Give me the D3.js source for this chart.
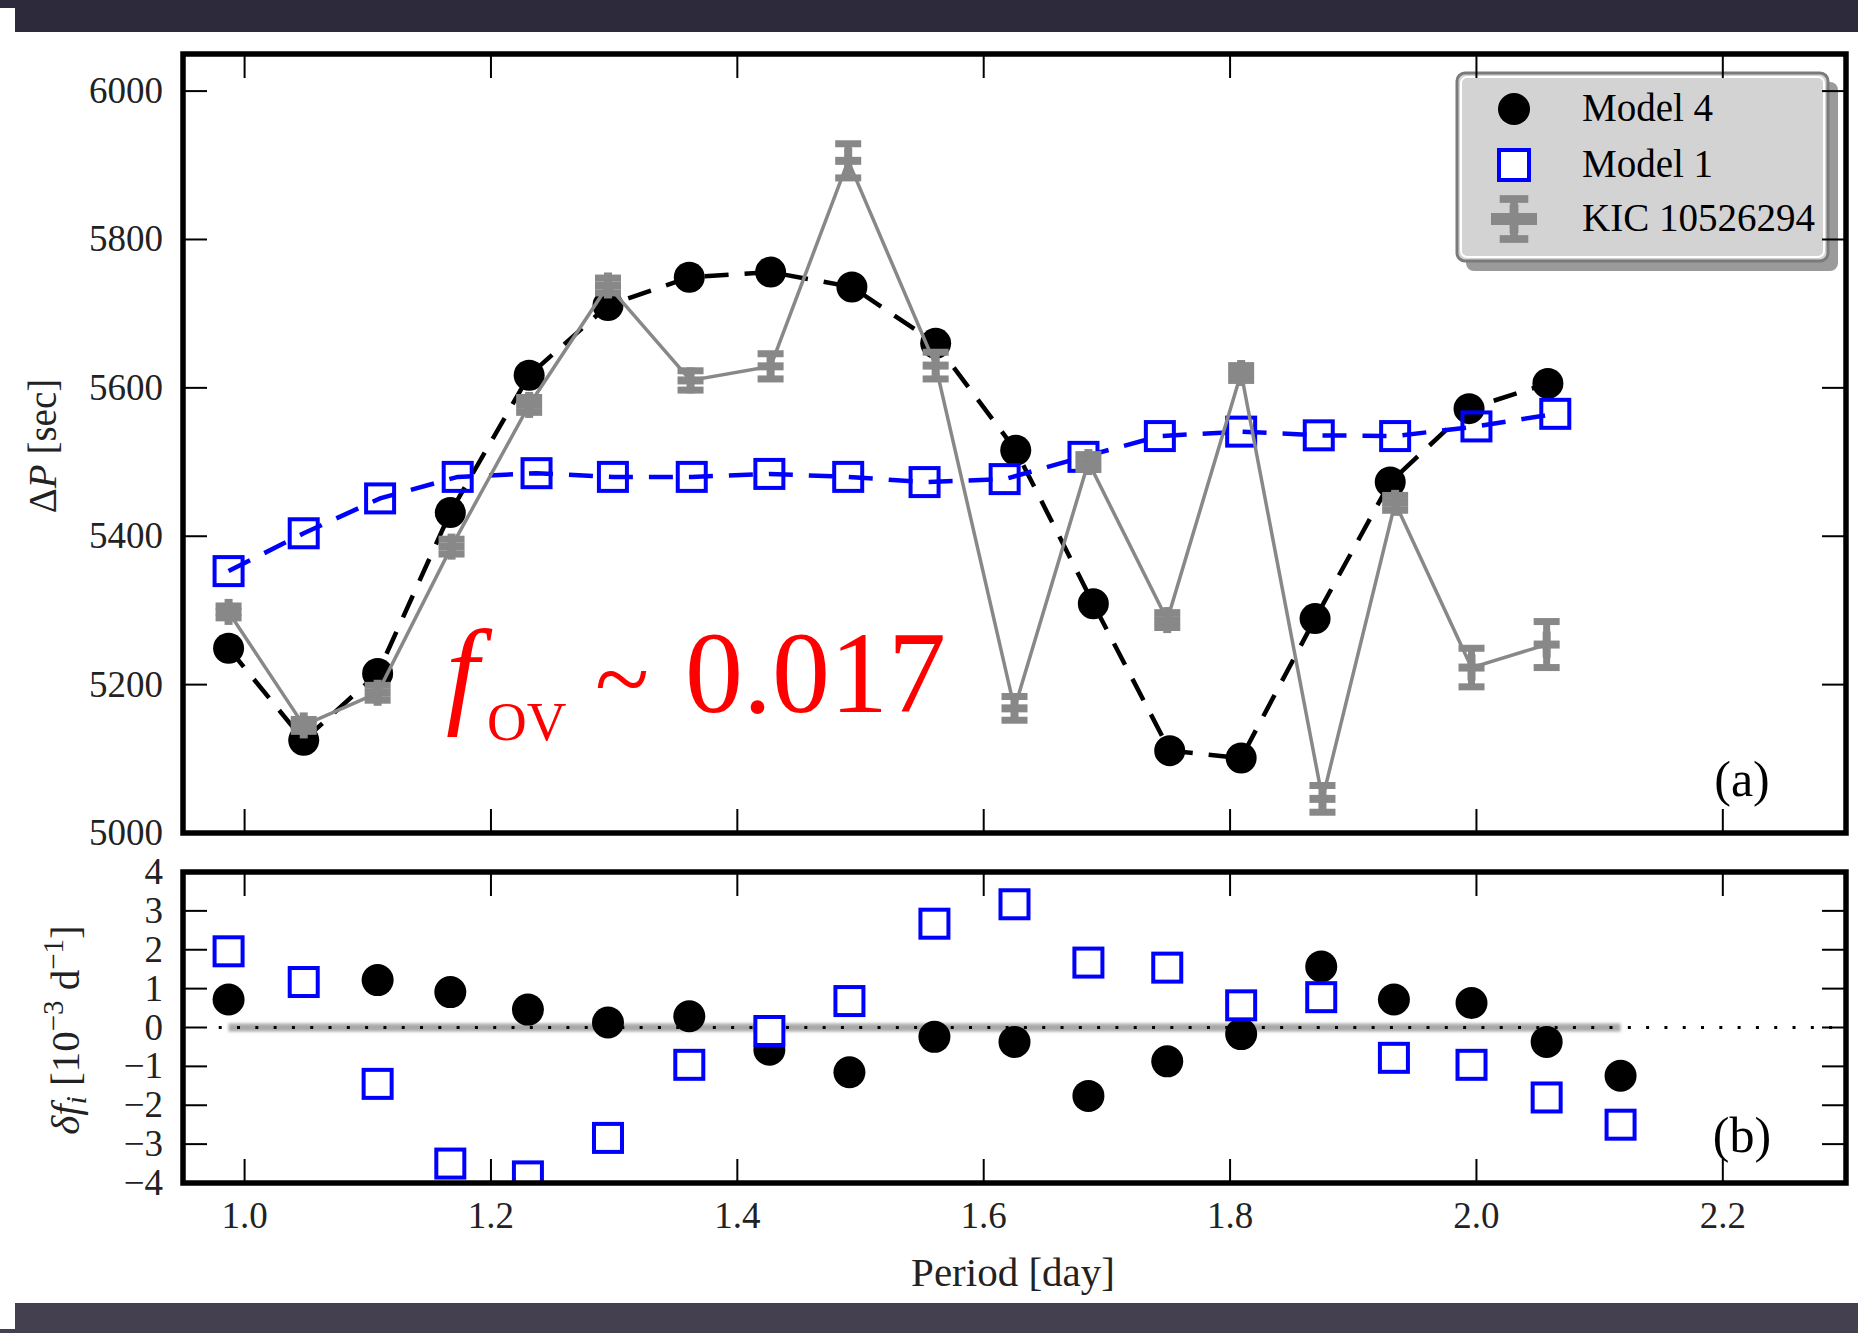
<!DOCTYPE html>
<meta charset="utf-8">
<script src="https://d3js.org/d3.v7.min.js"></script>
<style>
  body { margin: 0; background: #fff; }
  text { font-family: "Liberation Serif", "DejaVu Serif", serif; }
</style>
<body>
<div id="my_dataviz"></div>
<script>

// ---- data ----
// panel (a): period spacing vs period
var m4Period  = [0.987,1.048,1.108,1.167,1.231,1.295,1.361,1.427,1.493,1.561,1.626,1.689,1.751,1.809,1.869,1.930,1.994,2.058];
var m4DeltaP  = [5249,5125,5215,5432,5617,5711,5749,5756,5736,5660,5516,5309,5111,5101,5289,5473,5572,5606];

var m1Period  = [0.987,1.048,1.110,1.173,1.237,1.299,1.363,1.426,1.490,1.552,1.617,1.681,1.743,1.809,1.872,1.934,2.000,2.064];
var m1DeltaP  = [5353,5404,5451,5480,5485,5480,5480,5484,5480,5473,5477,5507,5535,5541,5536,5535,5548,5565];

var kicPeriod = [0.987,1.048,1.108,1.168,1.231,1.295,1.362,1.427,1.490,1.561,1.625,1.685,1.749,1.809,1.875,1.934,1.996,2.057];
var kicDeltaP = [5298,5145,5189,5386,5577,5738,5610,5629,5906,5630,5168,5500,5287,5620,5046,5445,5223,5254];
var kicErr    = [8,8,10,10,10,10,13,17,23,18,16,10,10,10,18,10,26,31];

// panel (b): frequency residuals
var resPeriod = [0.987,1.048,1.108,1.167,1.230,1.295,1.361,1.426,1.491,1.560,1.625,1.685,1.749,1.809,1.874,1.933,1.996,2.057,2.117];
var m4Resid   = [0.72,null,1.22,0.91,0.46,0.13,0.29,-0.57,-1.15,-0.24,-0.37,-1.76,-0.87,-0.17,1.57,0.72,0.63,-0.37,-1.24];
var m1Resid   = [1.96,1.17,-1.45,-3.5,-3.83,-2.84,-0.96,-0.09,0.68,2.67,3.17,1.67,1.54,0.57,0.78,-0.78,-0.96,-1.8,-2.5];

var xTicks  = [1.0,1.2,1.4,1.6,1.8,2.0,2.2];
var yTicksA = [5000,5200,5400,5600,5800,6000];
var yTicksB = [-4,-3,-2,-1,0,1,2,3,4];
var legendLabels = ["Model 4","Model 1","KIC 10526294"];

// ---- layout ----
var W = 1858, H = 1333;
var left = 183, right = 1846;
var topA = 54, botA = 833;
var topB = 872, botB = 1183;

var svg = d3.select("#my_dataviz").append("svg")
    .attr("width", W).attr("height", H);

// screen frame bars
svg.append("rect").attr("x",0).attr("y",0).attr("width",W).attr("height",32).attr("fill","#2c2a3b");
svg.append("rect").attr("x",0).attr("y",8).attr("width",15).attr("height",24).attr("fill","#fff");
svg.append("rect").attr("x",0).attr("y",1303).attr("width",W).attr("height",30).attr("fill","#45404f");
svg.append("rect").attr("x",0).attr("y",1303).attr("width",15).attr("height",26).attr("fill","#fff");

var x = d3.scaleLinear().domain([0.95, 2.3]).range([left, right]);
var yA = d3.scaleLinear().domain([5000, 6050]).range([botA, topA]);
var yB = d3.scaleLinear().domain([-4, 4]).range([botB, topB]);

var defs = svg.append("defs");
defs.append("clipPath").attr("id","clipA").append("rect")
    .attr("x",left).attr("y",topA).attr("width",right-left).attr("height",botA-topA);
defs.append("clipPath").attr("id","clipB").append("rect")
    .attr("x",left).attr("y",topB).attr("width",right-left).attr("height",botB-topB);
defs.append("filter").attr("id","blur")
    .attr("x","-5%").attr("y","-100%").attr("width","110%").attr("height","300%")
  .append("feGaussianBlur").attr("stdDeviation",1.5);

var grey = "#888888", blue = "#0000ff";

function kicMarker(g, cx, cy, yTop, yBot, s) {
  var cap = 26 * s, th = 7 * s;
  g.append("line").attr("x1",cx).attr("x2",cx).attr("y1",yTop).attr("y2",yBot)
    .attr("stroke",grey).attr("stroke-width",7 * s);
  g.append("rect").attr("x",cx-cap/2).attr("y",yTop-th/2).attr("width",cap).attr("height",th).attr("fill",grey);
  g.append("rect").attr("x",cx-cap/2).attr("y",yBot-th/2).attr("width",cap).attr("height",th).attr("fill",grey);
  // plus marker
  g.append("rect").attr("x",cx-13*s).attr("y",cy-4*s).attr("width",26*s).attr("height",8*s).attr("fill",grey);
  g.append("rect").attr("x",cx-4*s).attr("y",cy-13*s).attr("width",8*s).attr("height",26*s).attr("fill",grey);
}

// ================= panel (a) =================
var gA = svg.append("g").attr("clip-path","url(#clipA)");

var m4 = m4Period.map(function(p,i){ return {p:p, v:m4DeltaP[i]}; });
var m1 = m1Period.map(function(p,i){ return {p:p, v:m1DeltaP[i]}; });
var kic = kicPeriod.map(function(p,i){ return {p:p, v:kicDeltaP[i], e:kicErr[i]}; });

var lineA = d3.line().x(function(d){ return x(d.p); }).y(function(d){ return yA(d.v); });

gA.append("path").datum(m4).attr("d", lineA)
  .attr("fill","none").attr("stroke","#000").attr("stroke-width",4.5).attr("stroke-dasharray","24,16");
gA.selectAll("circle.m4").data(m4).enter().append("circle")
  .attr("cx",function(d){ return x(d.p); }).attr("cy",function(d){ return yA(d.v); })
  .attr("r",15.5).attr("fill","#000");

gA.append("path").datum(m1).attr("d", lineA)
  .attr("fill","none").attr("stroke",blue).attr("stroke-width",4.5).attr("stroke-dasharray","24,16");
gA.selectAll("rect.m1").data(m1).enter().append("rect")
  .attr("x",function(d){ return x(d.p)-14; }).attr("y",function(d){ return yA(d.v)-14; })
  .attr("width",28).attr("height",28).attr("fill","none").attr("stroke",blue).attr("stroke-width",4);

gA.append("path").datum(kic).attr("d", lineA)
  .attr("fill","none").attr("stroke",grey).attr("stroke-width",3.5);
kic.forEach(function(d){
  kicMarker(gA, x(d.p), yA(d.v), yA(d.v + d.e), yA(d.v - d.e), 1);
});

// red annotation
var red = svg.append("g").attr("fill","#ff0000");
red.append("text").attr("x",446).attr("y",712).attr("font-size",118).attr("font-style","italic").text("f");
red.append("text").attr("x",487).attr("y",740).attr("font-size",55).text("OV");
red.append("text").attr("x",595).attr("y",712).attr("font-size",100).text("~");
red.append("text").attr("x",685).attr("y",712).attr("font-size",116).text("0.017");

svg.append("text").attr("x",1742).attr("y",796).attr("font-size",50).attr("text-anchor","middle").text("(a)");

// legend
var lg = svg.append("g");
lg.append("rect").attr("x",1466).attr("y",82).attr("width",372).attr("height",189).attr("rx",8).attr("fill","#9a9a9a");
lg.append("rect").attr("x",1457).attr("y",73).attr("width",371).attr("height",188).attr("rx",8)
  .attr("fill","#d3d3d3").attr("stroke","#7a7a7a").attr("stroke-width",3);
lg.append("rect").attr("x",1461).attr("y",77).attr("width",363).attr("height",180).attr("rx",6)
  .attr("fill","none").attr("stroke","#fff").attr("stroke-width",2);
var rowY = [109, 165, 219];
lg.append("circle").attr("cx",1514).attr("cy",rowY[0]).attr("r",16).attr("fill","#000");
lg.append("rect").attr("x",1499).attr("y",rowY[1]-15).attr("width",30).attr("height",30)
  .attr("fill","#fff").attr("stroke",blue).attr("stroke-width",4);
kicMarker(lg, 1514, rowY[2], rowY[2]-20, rowY[2]+20, 1.1);
lg.append("rect").attr("x",1491).attr("y",rowY[2]-6).attr("width",46).attr("height",12).attr("fill",grey);
lg.selectAll("text.lab").data(legendLabels).enter().append("text")
  .attr("x",1582).attr("y",function(d,i){ return rowY[i] + 12; })
  .attr("font-size",39).attr("fill","#000").text(function(d){ return d; });

// ================= panel (b) =================
var gB = svg.append("g").attr("clip-path","url(#clipB)");

gB.append("rect").attr("x",x(0.987)).attr("y",yB(0)-4).attr("width",x(2.117)-x(0.987)).attr("height",8)
  .attr("fill","#a8a8a8").attr("filter","url(#blur)");
gB.append("line").attr("x1",x(0.979)).attr("x2",right).attr("y1",yB(0)).attr("y2",yB(0))
  .attr("stroke","#000").attr("stroke-width",3).attr("stroke-dasharray","3,15.3");

var r4 = resPeriod.map(function(p,i){ return {p:p, v:m4Resid[i]}; }).filter(function(d){ return d.v !== null; });
var r1 = resPeriod.map(function(p,i){ return {p:p, v:m1Resid[i]}; });

gB.selectAll("circle.r4").data(r4).enter().append("circle")
  .attr("cx",function(d){ return x(d.p); }).attr("cy",function(d){ return yB(d.v); })
  .attr("r",16).attr("fill","#000");
gB.selectAll("rect.r1").data(r1).enter().append("rect")
  .attr("x",function(d){ return x(d.p)-14; }).attr("y",function(d){ return yB(d.v)-14; })
  .attr("width",28).attr("height",28).attr("fill","#fff").attr("stroke",blue).attr("stroke-width",4);

svg.append("text").attr("x",1742).attr("y",1152).attr("font-size",50).attr("text-anchor","middle").text("(b)");

// ================= axes =================
function drawFrame(y0, y1, yScale, yTicks, fmt, xLabels) {
  var g = svg.append("g");
  // ticks (inside, all four sides)
  xTicks.forEach(function(t){
    g.append("line").attr("x1",x(t)).attr("x2",x(t)).attr("y1",y0).attr("y2",y0+24).attr("stroke","#000").attr("stroke-width",2);
    g.append("line").attr("x1",x(t)).attr("x2",x(t)).attr("y1",y1).attr("y2",y1-24).attr("stroke","#000").attr("stroke-width",2);
  });
  yTicks.forEach(function(t){
    g.append("line").attr("x1",left).attr("x2",left+24).attr("y1",yScale(t)).attr("y2",yScale(t)).attr("stroke","#000").attr("stroke-width",2);
    g.append("line").attr("x1",right).attr("x2",right-24).attr("y1",yScale(t)).attr("y2",yScale(t)).attr("stroke","#000").attr("stroke-width",2);
    g.append("text").attr("x",163).attr("y",yScale(t)+12).attr("text-anchor","end")
      .attr("font-size",37).attr("fill","#222").text(fmt(t));
  });
  g.append("rect").attr("x",left).attr("y",y0).attr("width",right-left).attr("height",y1-y0)
    .attr("fill","none").attr("stroke","#000").attr("stroke-width",5.5);
  if (xLabels) {
    xTicks.forEach(function(t){
      g.append("text").attr("x",x(t)).attr("y",1228).attr("text-anchor","middle")
        .attr("font-size",37).attr("fill","#222").text(d3.format(".1f")(t));
    });
  }
}
drawFrame(topA, botA, yA, yTicksA, d3.format("d"), false);
drawFrame(topB, botB, yB, yTicksB, function(t){ return t < 0 ? "\u2212" + Math.abs(t) : String(t); }, true);

// axis labels
svg.append("text").attr("x",1013).attr("y",1286).attr("text-anchor","middle")
  .attr("font-size",41).attr("fill","#222").text("Period [day]");

var yl1 = svg.append("text").attr("transform","translate(56,446) rotate(-90)")
  .attr("text-anchor","middle").attr("font-size",39).attr("fill","#222");
yl1.append("tspan").text("\u0394");
yl1.append("tspan").attr("font-style","italic").text("P");
yl1.append("tspan").text(" [sec]");

var yl2 = svg.append("text").attr("transform","translate(79,1030) rotate(-90)")
  .attr("text-anchor","middle").attr("font-size",41).attr("fill","#222");
yl2.append("tspan").attr("font-style","italic").text("\u03b4f");
yl2.append("tspan").attr("font-style","italic").attr("font-size",29).attr("dy",7).text("i");
yl2.append("tspan").attr("dy",-7).text(" [10");
yl2.append("tspan").attr("font-size",29).attr("dy",-16).text("\u22123");
yl2.append("tspan").attr("dy",16).text(" d");
yl2.append("tspan").attr("font-size",29).attr("dy",-16).text("\u22121");
yl2.append("tspan").attr("dy",16).text("]");

</script>
</body>
